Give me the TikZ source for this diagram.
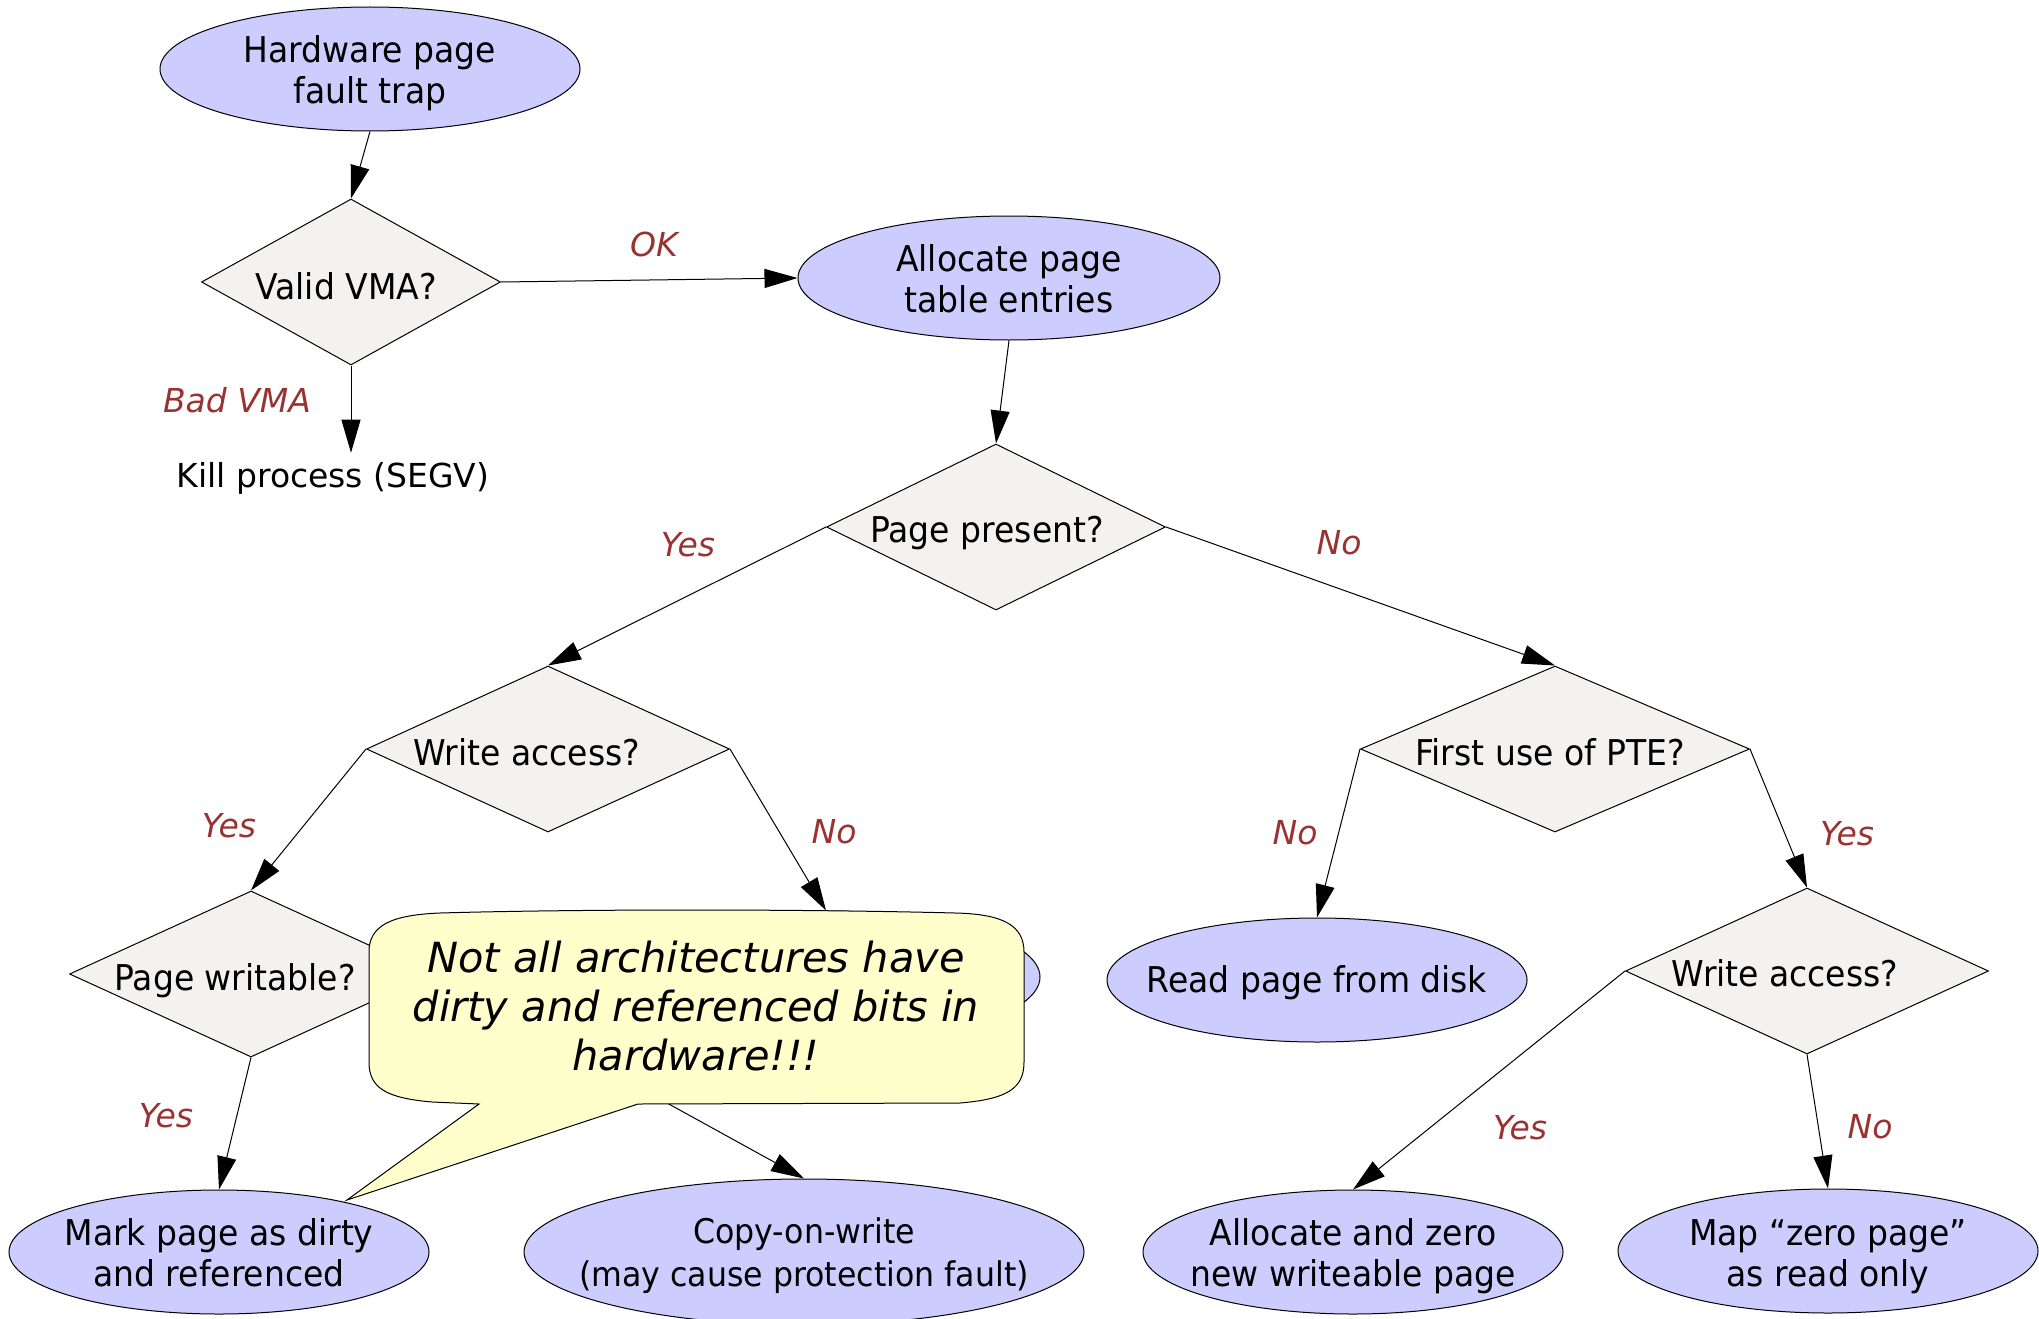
\documentclass[tikz,border=0pt]{standalone}
\usepackage{fontspec}
\setmainfont{DejaVu Sans}
\newfontfamily\shapefont{DejaVu Sans}[FakeStretch=0.93]
\usetikzlibrary{shapes.geometric,arrows.meta}

\definecolor{procfill}{RGB}{204,204,255}
\definecolor{testfill}{RGB}{244,242,241}
\definecolor{branchred}{RGB}{153,51,51}
\definecolor{notefill}{RGB}{255,255,204}

% one line of text whose baseline sits #1/2 below the node centre
\newcommand\oneln[2]{\raisebox{0pt}[#1][0pt]{#2}}
% stacked lines: first baseline sits #1/2 above the node centre
\newcommand\stackln[2]{\raisebox{0pt}[0pt][#1]{\begin{tabular}[t]{@{}c@{}}#2\end{tabular}}}

\begin{document}
\begin{tikzpicture}[x=1pt,y=-1pt,
  every node/.style={font=\fontsize{33}{41}\selectfont},
  shapetext/.style={font=\shapefont\fontsize{35.5}{41}\selectfont},
  proc/.style={ellipse,draw,fill=procfill,line width=1pt,inner ysep=0pt,inner xsep=-40pt,shapetext},
  test/.style={diamond,draw,fill=testfill,line width=1pt,inner sep=0pt,aspect=2,shapetext},
  branch/.style={text=branchred,font=\fontsize{33}{41}\selectfont\itshape,text height=24pt,text depth=0pt},
  flow/.style={line width=1pt,-{Triangle[length=33pt,width=19pt]}},
]
\useasboundingbox (0,0) rectangle (2039,1319);

% ---- process steps (ellipses) ----
\node[proc,minimum width=420pt,minimum height=124pt] (trap)  at (370,69)   {\stackln{12pt}{Hardware page\\fault trap}};
\node[proc,minimum width=422pt,minimum height=124pt] (alloc) at (1009,278) {\stackln{14pt}{Allocate page\\table entries}};
\node[proc,minimum width=428pt,minimum height=132pt] (ro)    at (826,977)  {};
\node[proc,minimum width=420pt,minimum height=124pt] (disk)  at (1317,980) {\oneln{24pt}{Read page from disk}};
\node[proc,minimum width=420pt,minimum height=124pt] (mark)  at (219,1252) {\stackln{14pt}{Mark page as dirty\\and referenced}};
\node[proc,inner xsep=-70pt,minimum width=560pt,minimum height=146pt,
      font=\shapefont\fontsize{34}{43}\selectfont] (cow) at (804,1252) {\stackln{18pt}{Copy-on-write\\(may cause protection fault)}};
\node[proc,minimum width=420pt,minimum height=124pt] (zero)  at (1353,1252) {\stackln{14pt}{Allocate and zero\\new writeable page}};
\node[proc,minimum width=420pt,minimum height=124pt] (mapz)  at (1828,1251) {\stackln{12pt}{Map “zero page”\\as read only}};

% ---- decisions (diamonds) ----
\node[test,minimum width=299pt,minimum height=166pt] (vma)     at (351,282)  {\oneln{34pt}{\hspace*{-10pt}Valid VMA?}};
\node[test,minimum width=339pt,minimum height=166pt] (present) at (996,527)  {\oneln{31pt}{\hspace*{-18pt}Page present?}};
\node[test,minimum width=363pt,minimum height=166pt] (wrl)     at (548,749)  {\oneln{33pt}{\hspace*{-42pt}Write access?}};
\node[test,minimum width=389pt,minimum height=166pt] (first)   at (1555,749) {\oneln{33pt}{\hspace*{-10pt}First use of PTE?}};
\node[test,minimum width=363pt,minimum height=166pt] (pw)      at (251,974)  {\oneln{33pt}{\hspace*{-32pt}Page writable?}};
\node[test,minimum width=363pt,minimum height=166pt] (wrr)     at (1807,971) {\oneln{30pt}{\hspace*{-44pt}Write access?}};

% ---- terminal text ----
\node[anchor=base,inner ysep=9pt] (kill) at (333,487) {Kill process (SEGV)};

% ---- connectors ----
\draw[flow] (trap.south)    -- (vma.north);
\draw[flow] (vma.east)      -- (alloc.west);
\draw[flow] (vma.south)     -- (vma.south |- kill.north);
\draw[flow] (alloc.south)   -- (present.north);
\draw[flow] (present.west)  -- (wrl.north);
\draw[flow] (present.east)  -- (first.north);
\draw[flow] (wrl.west)      -- (pw.north);
\draw[flow] (wrl.east)      -- (ro.north);
\draw[flow] (pw.south)      -- (mark.north);
\draw[flow] (pw.east)       -- (cow.north);
\draw[flow] (first.west)    -- (disk.north);
\draw[flow] (first.east)    -- (wrr.north);
\draw[flow] (wrr.west)      -- (zero.north);
\draw[flow] (wrr.south)     -- (mapz.north);

% ---- branch labels ----
\node[branch] (lok)    at (654,244)   {OK};
\node[branch] (lbad)   at (237,400)   {Bad VMA};
\node[branch] (lpy)    at (688,544)   {Yes};
\node[branch] (lpn)    at (1339,542)  {No};
\node[branch] (lwy)    at (229,825)   {Yes};
\node[branch] (lwn)    at (834,831)   {No};
\node[branch] (lpwy)   at (166,1115)  {Yes};
\node[branch] (lfn)    at (1295,832)  {No};
\node[branch] (lfy)    at (1847,833)  {Yes};
\node[branch] (lwry)   at (1520,1127) {Yes};
\node[branch] (lwrn)   at (1870,1126) {No};

% ---- speech-bubble note ----
\path[draw,fill=notefill,line width=1pt]
  (479,1104) -- (347,1200) -- (638,1104) -- (960,1103)
  .. controls (1008,1099) and (1024,1088) .. (1024,1062)
  -- (1024,952)
  .. controls (1024,926) and (1004,914) .. (955,913)
  .. controls (800,909) and (580,909) .. (440,913)
  .. controls (390,915) and (369,926) .. (369,952)
  -- (369,1062)
  .. controls (369,1088) and (386,1098) .. (432,1102)
  -- cycle;
\node[font=\fontsize{41.5}{49}\selectfont\itshape,inner sep=0pt] (note) at (696,972)
  {\raisebox{0pt}[0pt][0pt]{\begin{tabular}[t]{@{}c@{}}Not all architectures have\\dirty and referenced bits in\\hardware!!!\end{tabular}}};

\end{tikzpicture}
\end{document}
